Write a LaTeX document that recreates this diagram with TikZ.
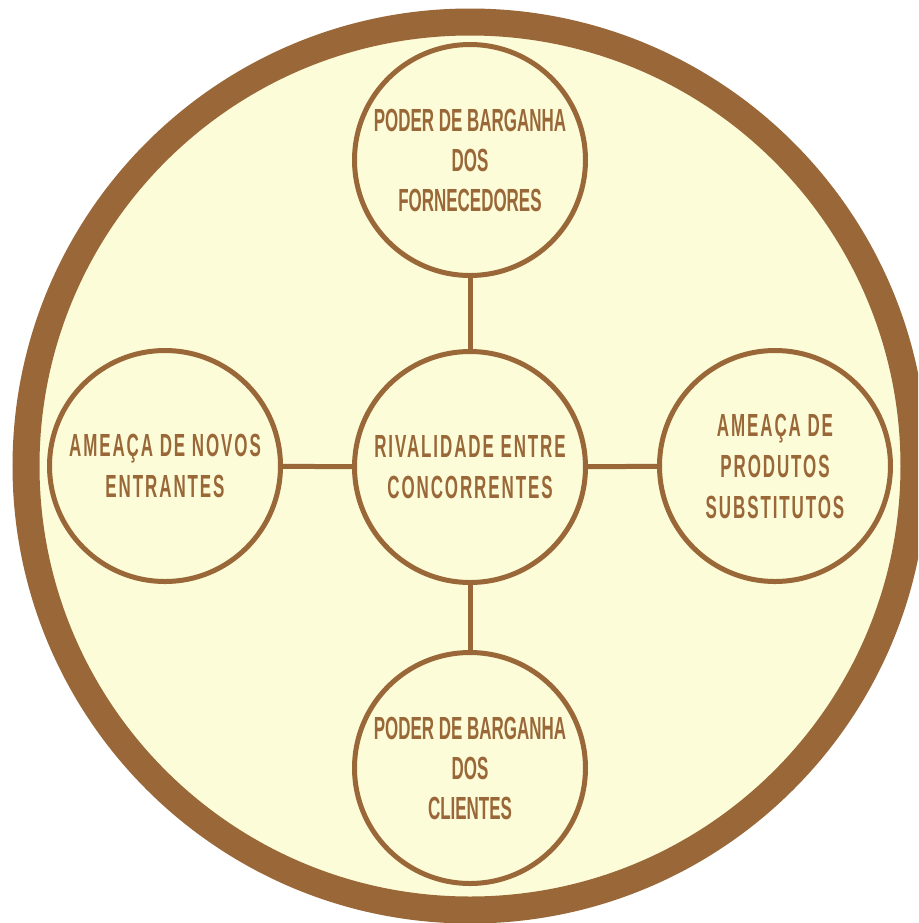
\documentclass[tikz,border=0pt]{standalone}
\usepackage{fontspec}
\newfontfamily\forcefont[FakeStretch=0.53]{Liberation Sans Bold}
\definecolor{bark}{RGB}{153,103,56}
\definecolor{cream}{RGB}{252,252,216}
\tikzset{
	force/.style={circle, draw=bark, line width=2.5pt, fill=cream, minimum size=115.5pt, inner sep=0pt, align=center, text=bark, font=\forcefont\fontsize{16}{20}\selectfont},
	spaced/.style={font=\forcefont\fontsize{16}{20.5}\selectfont\addfontfeature{LetterSpace=6}},
	link/.style={draw=bark, line width=2.5pt},
}
\begin{document}
\begin{tikzpicture}[x=0.5pt,y=0.5pt]
	\useasboundingbox (0,0) rectangle (918,-923);
	\clip (0,0) rectangle (918,-923);
	\fill[white] (0,0) rectangle (918,-923);
	\draw[draw=bark, fill=cream, line width=13.5pt] (470,-466) circle (444);
	\node[force] (top) at (470,-160) {PODER DE BARGANHA\\DOS\\FORNECEDORES};
	\node[force, spaced] (mid) at (470,-467) {RIVALIDADE ENTRE\\CONCORRENTES};
	\node[force, spaced] (left) at (165,-466) {AMEAÇA DE NOVOS\\ENTRANTES};
	\node[force, spaced] (right) at (775,-466) {AMEAÇA DE\\PRODUTOS\\SUBSTITUTOS};
	\node[force] (bottom) at (470,-768) {PODER DE BARGANHA\\DOS\\CLIENTES};
	\draw[link] (top) -- (mid);
	\draw[link] (mid) -- (bottom);
	\draw[link] (left) -- (mid);
	\draw[link] (mid) -- (right);
\end{tikzpicture}
\end{document}
